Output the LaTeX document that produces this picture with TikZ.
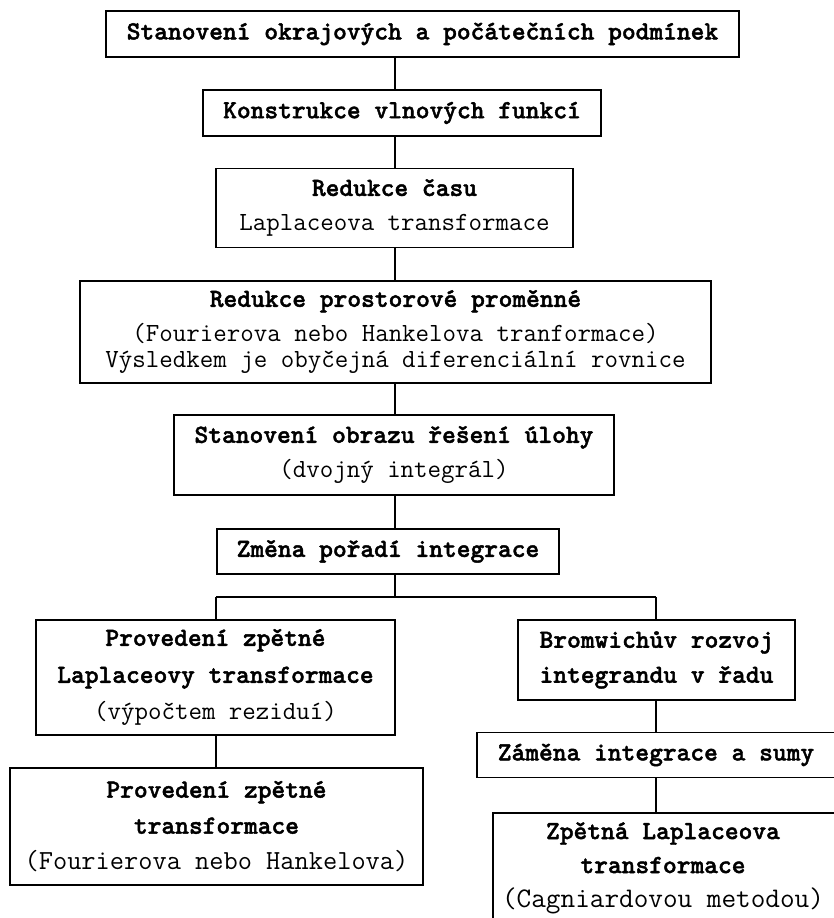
\documentclass[tikz,border=0pt]{standalone}
\usepackage{fontspec}
\newfontfamily\ttbold{lmmonolt10-bold.otf}[FakeBold=1.6]
\newcommand\hb{\ttbold}
\begin{document}
\begin{tikzpicture}[x=1pt,y=-1pt,
  box/.style={draw, line width=1.8pt, inner sep=0pt, align=center,
    font=\ttfamily\fontsize{26.2}{35}\selectfont},
  plain/.style={inner sep=0pt, align=center, font=\ttfamily\fontsize{26.2}{34}\selectfont},
  conn/.style={line width=1.5pt}]
\useasboundingbox (0,0) rectangle (834,918);
\clip (0,0) rectangle (834,918);
\coordinate (ax) at (395,0);
\coordinate (bl) at (216,597);
\coordinate (br) at (656,597);

\node[box, minimum width=633, minimum height=46] (b1) at (422.5,34)
  {\hb Stanovení okrajových a počátečních podmínek};
\node[box, minimum width=398, minimum height=46] (b2) at (402,113)
  {\hb Konstrukce vlnových funkcí};
\node[box, minimum width=357, minimum height=79] (b3) at (394.5,208)
  {{\hb Redukce času}\\Laplaceova transformace};
\node[box, minimum width=631, minimum height=102] (b4) at (395.5,332)
  {{\hb Redukce prostorové proměnné}\\(Fourierova nebo Hankelova tranformace)\\[-9pt]Výsledkem je obyčejná diferenciální rovnice};
\node[box, minimum width=440, minimum height=80] (b5) at (394,455)
  {{\hb Stanovení obrazu řešení úlohy}\\(dvojný integrál)};
\node[box, minimum width=342, minimum height=45] (b6) at (388,551.5)
  {\hb Změna pořadí integrace};

\node[box, minimum width=359, minimum height=115] (b7) at (215.5,677.5)
  {{\hb Provedení zpětné}\\[2pt]{\hb Laplaceovy transformace}\\[2pt](výpočtem reziduí)};
\node[box, minimum width=413, minimum height=117] (b8) at (216.5,826.5)
  {{\hb Provedení zpětné}\\[1pt]{\hb transformace}\\[1pt]{\fontsize{27.6}{35}\selectfont (Fourierova nebo Hankelova)}};

\node[box, minimum width=277, minimum height=80] (b9) at (656.5,660)
  {{\hb Bromwichův rozvoj}\\{\hb integrandu v řadu}};
\node[box, minimum width=358, minimum height=45] (b10) at (656,755)
  {\hb Záměna integrace a sumy};
\node[draw, line width=1.8pt, inner sep=0pt, anchor=north west,
  minimum width=370, minimum height=130] (b11) at (492,812) {};
\node[plain] (t11) at (663,868)
  {{\hb Zpětná Laplaceova}\\{\hb transformace}\\{\fontsize{28.4}{34}\selectfont (Cagniardovou metodou)}};

\draw[conn] (b1.south -| ax) -- (b2.north -| ax);
\draw[conn] (b2.south -| ax) -- (b3.north -| ax);
\draw[conn] (b3.south -| ax) -- (b4.north -| ax);
\draw[conn] (b4.south -| ax) -- (b5.north -| ax);
\draw[conn] (b5.south -| ax) -- (b6.north -| ax);
\draw[conn] (b6.south -| ax) -- (ax |- bl);
\draw[conn] (bl) -- (br);
\draw[conn] (bl) -- (b7.north -| bl);
\draw[conn] (br) -- (b9.north -| br);
\draw[conn] (b7.south -| bl) -- (b8.north -| bl);
\draw[conn] (b9.south -| br) -- (b10.north -| br);
\draw[conn] (b10.south -| br) -- (b11.north -| br);
\end{tikzpicture}
\end{document}
